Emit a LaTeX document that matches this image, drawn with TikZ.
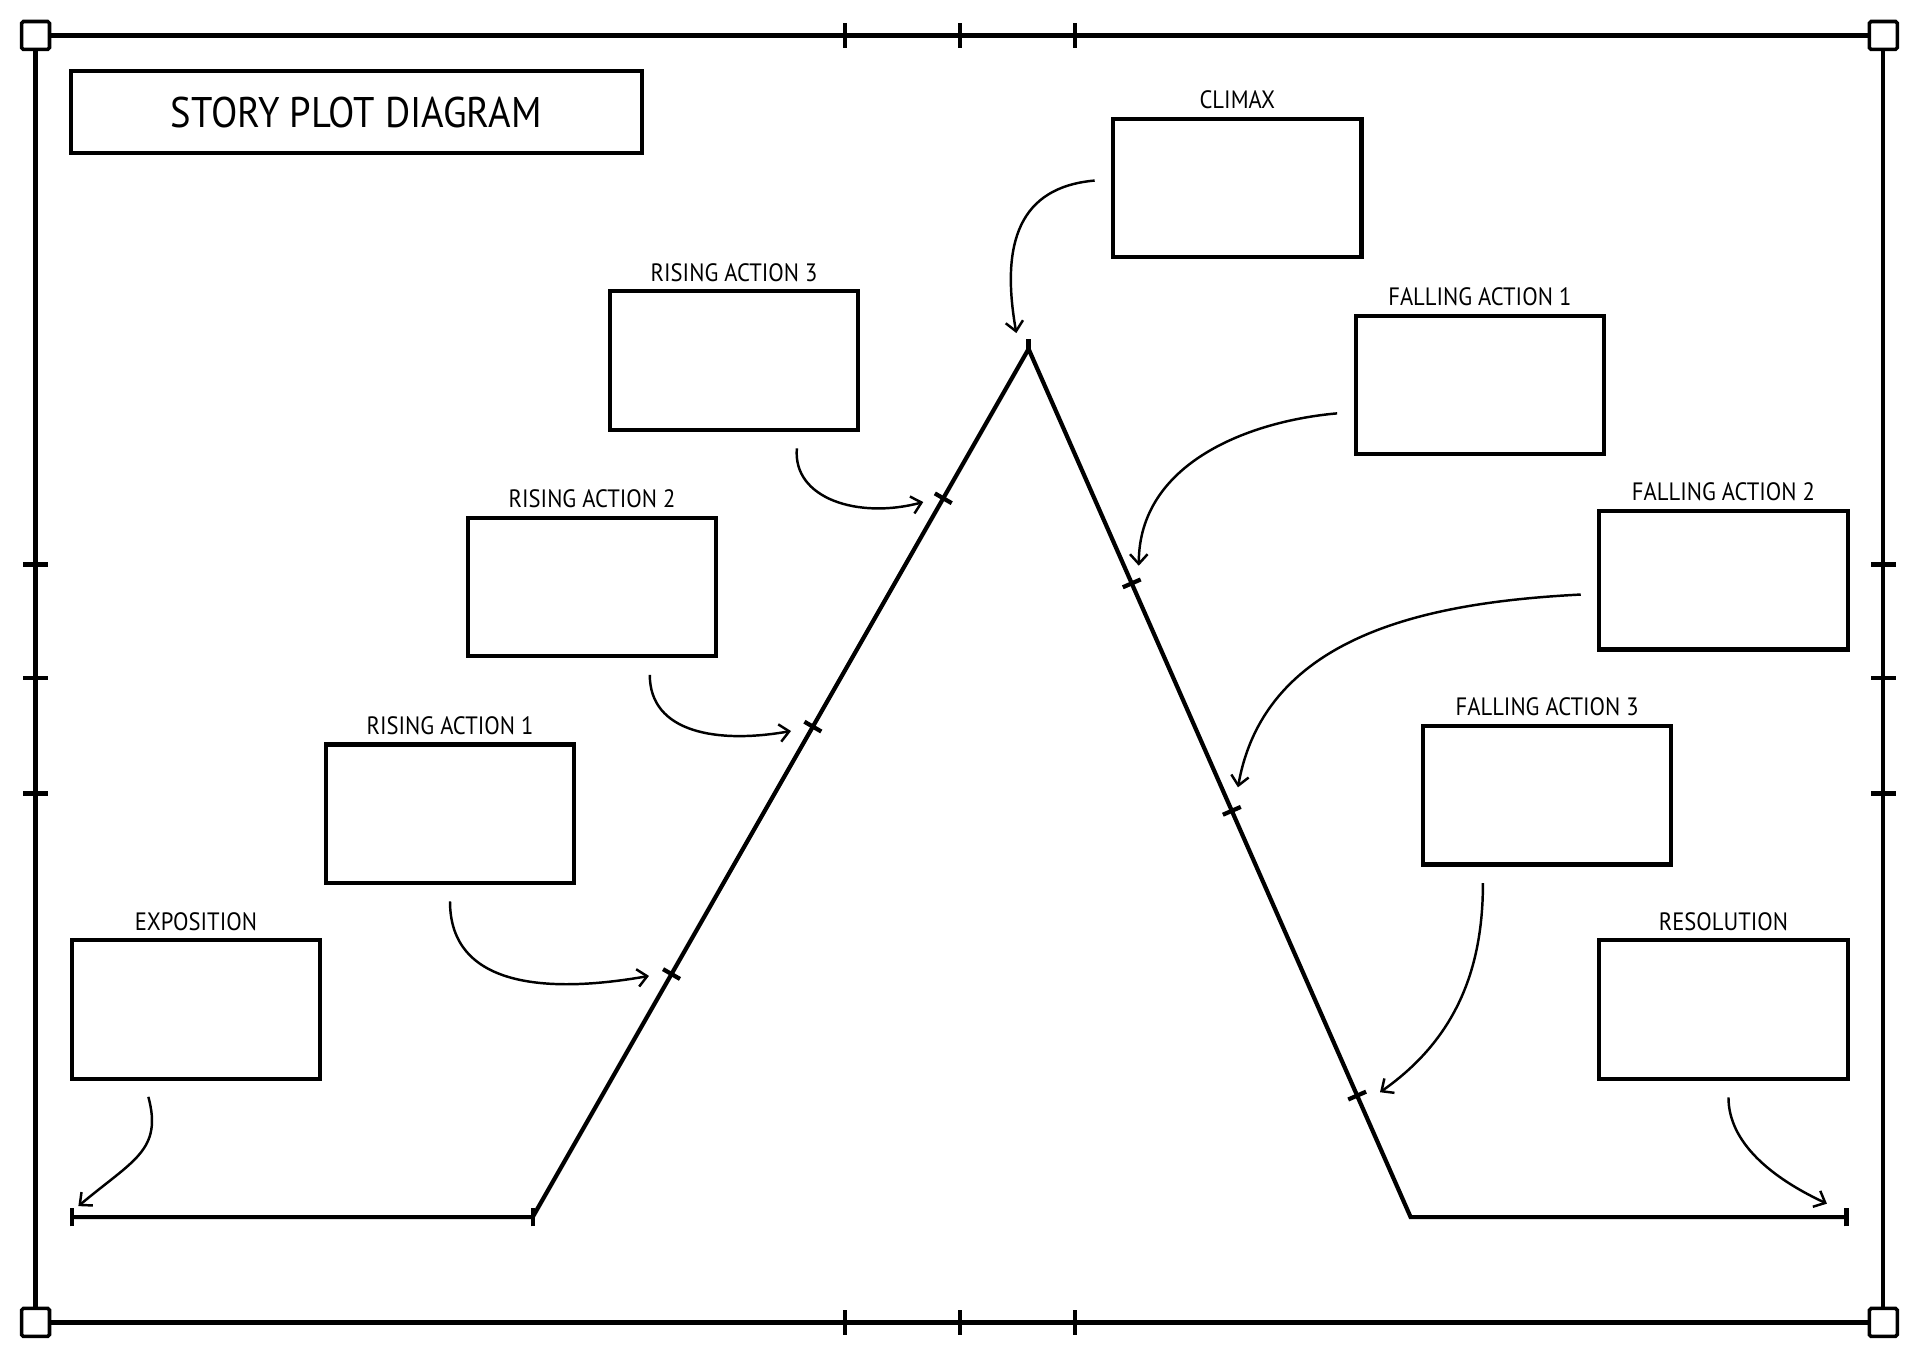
\documentclass[tikz,border=0pt]{standalone}
\usepackage{fontspec}
\setmainfont[FakeStretch=0.9]{PT Sans}
\usetikzlibrary{arrows.meta}

\begin{document}
\begin{tikzpicture}[x=0.0245cm, y=0.0245cm,
    frameline/.style = {line width=2.4pt},
    corner/.style = {rectangle, draw, fill=white, line width=2pt, rounded corners=1pt, minimum size=0.56cm, inner sep=0pt},
    titlebox/.style = {rectangle, draw, line width=2.4pt, minimum width=11.42cm, minimum height=1.64cm, font=\fontsize{24.4pt}{28pt}\selectfont},
    stagebox/.style = {rectangle, draw, line width=2.4pt, minimum width=4.97cm, minimum height=2.77cm, inner sep=0pt},
    boxlabel/.style = {label={[label distance=1pt, font=\fontsize{14.3pt}{17pt}\selectfont]above:#1}},
    plotline/.style = {line width=2.4pt},
    pointer/.style = {->, line width=1.4pt, shorten <=0.33cm},
    >={Straight Barb[length=5.5pt, width=10pt]}]
  \useasboundingbox (0,0) rectangle (1568,1109);

  % Frame.
  \draw [frameline] (29,29) rectangle (1538,1080);
  \foreach \x in {690,784,878} {
    \draw [frameline] (\x,19) -- (\x,39);
    \draw [frameline] (\x,1070) -- (\x,1090);
  }
  \foreach \y in {461,555,648} {
    \draw [frameline] (19,\y) -- (39,\y);
    \draw [frameline] (1528,\y) -- (1548,\y);
  }
  \foreach \x/\y/\n in {29/29/SW, 1538/29/SE, 29/1080/NW, 1538/1080/NE}
    \node at (\x,\y) [corner, name=Corner\n] {};

  % Title.
  \node at (291,1017.5) [titlebox, name=Title] {STORY PLOT DIAGRAM};

  % Stage boxes.
  \node at (160,284.5) [stagebox, boxlabel=EXPOSITION, name=Exposition] {};
  \node at (367.5,444.5) [stagebox, boxlabel=RISING ACTION 1, name=Rising1] {};
  \node at (483.5,629.5) [stagebox, boxlabel=RISING ACTION 2, name=Rising2] {};
  \node at (599.5,814.5) [stagebox, boxlabel=RISING ACTION 3, name=Rising3] {};
  \node at (1010.5,955.5) [stagebox, boxlabel=CLIMAX, name=Climax] {};
  \node at (1208.5,794.5) [stagebox, boxlabel=FALLING ACTION 1, name=Falling1] {};
  \node at (1407.5,635) [stagebox, boxlabel=FALLING ACTION 2, name=Falling2] {};
  \node at (1263.5,459.5) [stagebox, boxlabel=FALLING ACTION 3, name=Falling3] {};
  \node at (1407.5,284.5) [stagebox, boxlabel=RESOLUTION, name=Resolution] {};

  % Plot line.
  \coordinate (PlotStart) at (59,115);
  \coordinate (RiseStart) at (435,115);
  \coordinate (Peak) at (840,824);
  \coordinate (FallEnd) at (1152,115);
  \coordinate (PlotEnd) at (1508,115);
  \draw [plotline] (PlotStart) -- (RiseStart) -- (Peak) -- (FallEnd) -- (PlotEnd);
  \path (RiseStart) -- coordinate [pos=0.28] (RiseMark1)
                       coordinate [pos=0.565] (RiseMark2)
                       coordinate [pos=0.828] (RiseMark3) (Peak);
  \path (Peak) -- coordinate [pos=0.27] (FallMark1)
                  coordinate [pos=0.532] (FallMark2)
                  coordinate [pos=0.86] (FallMark3) (FallEnd);

  % Marks on the plot line.
  \foreach \p in {PlotStart,RiseStart,PlotEnd}
    \draw [plotline] (\p) ++(0,-7.5) -- ++(0,15);
  \draw [plotline] (Peak) -- ++(0,8);
  \foreach \m in {RiseMark1,RiseMark2,RiseMark3}
    \draw [plotline] (\m) ++(-6.9,4) -- ++(13.8,-8);
  \foreach \m in {FallMark1,FallMark2,FallMark3}
    \draw [plotline] (\m) ++(-7.3,-3.2) -- ++(14.6,6.4);

  % Arrow tips.
  \coordinate (ExpositionTip) at (64,124);
  \coordinate (Rising1Tip) at (530,312);
  \coordinate (Rising2Tip) at (646,512);
  \coordinate (Rising3Tip) at (754,699);
  \coordinate (ClimaxTip) at (830,837);
  \coordinate (Falling1Tip) at (930,647);
  \coordinate (Falling2Tip) at (1011,466);
  \coordinate (Falling3Tip) at (1127,217);
  \coordinate (ResolutionTip) at (1492,126);

  % Pointers from the boxes to the plot line.
  \draw [pointer] (Exposition.-126.6)
             to [out=-75, in=40, looseness=1.3] (ExpositionTip);
  \draw [pointer] (Rising1.south)
             to [out=-90, in=190, looseness=1.2] (Rising1Tip);
  \draw [pointer] (Rising2.-51.8)
             to [out=-90, in=190, looseness=1.2] (Rising2Tip);
  \draw [pointer] (Rising3.-48.2)
             to [out=-95, in=195, looseness=1.2] (Rising3Tip);
  \draw [pointer] (Climax.176.9)
             to [out=185, in=100, looseness=1.3] (ClimaxTip);
  \draw [pointer] (Falling1.-168.6)
             to [out=185, in=90] (Falling1Tip);
  \draw [pointer] (Falling2.-174.4)
             to [out=183, in=80] (Falling2Tip);
  \draw [pointer] (Falling3.-132.3)
             to [out=-90, in=35] (Falling3Tip);
  \draw [pointer] (Resolution.-86)
             to [out=-90, in=155] (ResolutionTip);
\end{tikzpicture}
\end{document}
